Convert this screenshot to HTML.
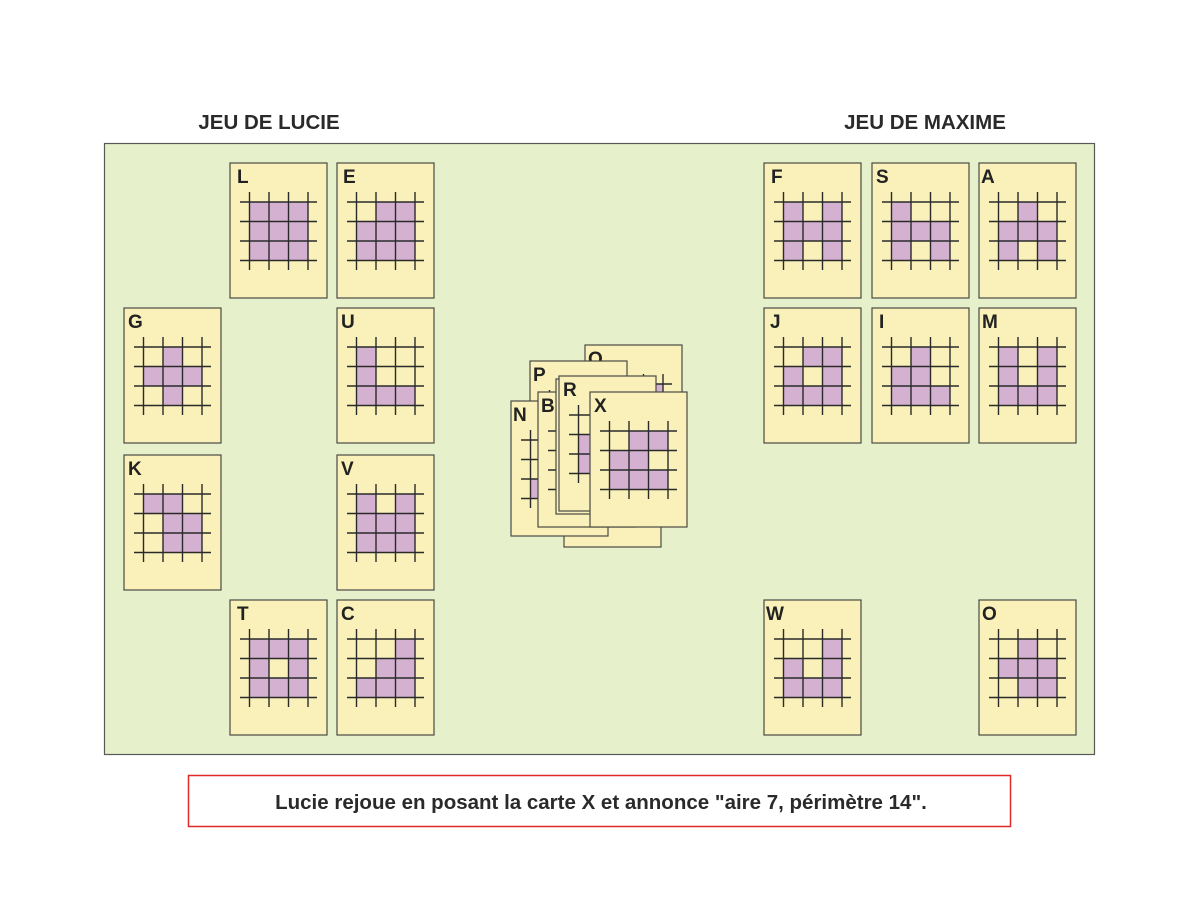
<!DOCTYPE html>
<html><head><meta charset="utf-8"><style>
html,body{margin:0;padding:0;background:#fff;width:1200px;height:900px;overflow:hidden}
svg{display:block}
.c{fill:#f9f1b9;stroke:#4a4a44;stroke-width:1.2}
.p{fill:#d4b1d1}
.l{font:bold 19px "Liberation Sans",sans-serif;fill:#222}
.gl line{stroke:#2a2a2a;stroke-width:1.4}
</style></head><body>
<svg width="1200" height="900" viewBox="0 0 1200 900" xmlns="http://www.w3.org/2000/svg">
<defs>
<g id="g" class="gl">
<line x1="10" y1="39" x2="87" y2="39"/><line x1="10" y1="58.5" x2="87" y2="58.5"/><line x1="10" y1="78" x2="87" y2="78"/><line x1="10" y1="97.5" x2="87" y2="97.5"/>
<line x1="19.5" y1="29" x2="19.5" y2="107"/><line x1="39" y1="29" x2="39" y2="107"/><line x1="58.5" y1="29" x2="58.5" y2="107"/><line x1="78" y1="29" x2="78" y2="107"/>
</g>
<rect id="k" class="c" x="0" y="0" width="97" height="135"/>
<rect id="a" class="p" x="19.5" y="39" width="19.5" height="19.5"/>
<rect id="b" class="p" x="39" y="39" width="19.5" height="19.5"/>
<rect id="d" class="p" x="58.5" y="39" width="19.5" height="19.5"/>
<rect id="e" class="p" x="19.5" y="58.5" width="19.5" height="19.5"/>
<rect id="f" class="p" x="39" y="58.5" width="19.5" height="19.5"/>
<rect id="h" class="p" x="58.5" y="58.5" width="19.5" height="19.5"/>
<rect id="i" class="p" x="19.5" y="78" width="19.5" height="19.5"/>
<rect id="j" class="p" x="39" y="78" width="19.5" height="19.5"/>
<rect id="m" class="p" x="58.5" y="78" width="19.5" height="19.5"/>
</defs>
<text x="269" y="129" text-anchor="middle" style="font:bold 20.5px 'Liberation Sans',sans-serif;fill:#2a2a2a">JEU DE LUCIE</text>
<text x="925" y="129" text-anchor="middle" style="font:bold 20.5px 'Liberation Sans',sans-serif;fill:#2a2a2a">JEU DE MAXIME</text>
<rect x="104.5" y="143.5" width="990" height="611" fill="#e6f0cb" stroke="#5a5a55" stroke-width="1.2"/>

<g transform="translate(230,163)"><use href="#k"/><text class="l" x="7" y="20">L</text><use href="#a"/><use href="#b"/><use href="#d"/><use href="#e"/><use href="#f"/><use href="#h"/><use href="#i"/><use href="#j"/><use href="#m"/><use href="#g"/></g>
<g transform="translate(337,163)"><use href="#k"/><text class="l" x="6" y="20">E</text><use href="#b"/><use href="#d"/><use href="#e"/><use href="#f"/><use href="#h"/><use href="#i"/><use href="#j"/><use href="#m"/><use href="#g"/></g>
<g transform="translate(124,308)"><use href="#k"/><text class="l" x="4" y="20">G</text><use href="#b"/><use href="#e"/><use href="#f"/><use href="#h"/><use href="#j"/><use href="#g"/></g>
<g transform="translate(337,308)"><use href="#k"/><text class="l" x="4" y="20">U</text><use href="#a"/><use href="#e"/><use href="#i"/><use href="#j"/><use href="#m"/><use href="#g"/></g>
<g transform="translate(124,455)"><use href="#k"/><text class="l" x="4" y="20">K</text><use href="#a"/><use href="#b"/><use href="#f"/><use href="#h"/><use href="#j"/><use href="#m"/><use href="#g"/></g>
<g transform="translate(337,455)"><use href="#k"/><text class="l" x="4" y="20">V</text><use href="#a"/><use href="#d"/><use href="#e"/><use href="#f"/><use href="#h"/><use href="#i"/><use href="#j"/><use href="#m"/><use href="#g"/></g>
<g transform="translate(230,600)"><use href="#k"/><text class="l" x="7" y="20">T</text><use href="#a"/><use href="#b"/><use href="#d"/><use href="#e"/><use href="#h"/><use href="#i"/><use href="#j"/><use href="#m"/><use href="#g"/></g>
<g transform="translate(337,600)"><use href="#k"/><text class="l" x="4" y="20">C</text><use href="#d"/><use href="#f"/><use href="#h"/><use href="#i"/><use href="#j"/><use href="#m"/><use href="#g"/></g>

<g transform="translate(764,163)"><use href="#k"/><text class="l" x="7" y="20">F</text><use href="#a"/><use href="#d"/><use href="#e"/><use href="#f"/><use href="#h"/><use href="#i"/><use href="#m"/><use href="#g"/></g>
<g transform="translate(872,163)"><use href="#k"/><text class="l" x="4" y="20">S</text><use href="#a"/><use href="#e"/><use href="#f"/><use href="#h"/><use href="#i"/><use href="#m"/><use href="#g"/></g>
<g transform="translate(979,163)"><use href="#k"/><text class="l" x="2" y="20">A</text><use href="#b"/><use href="#e"/><use href="#f"/><use href="#h"/><use href="#i"/><use href="#m"/><use href="#g"/></g>
<g transform="translate(764,308)"><use href="#k"/><text class="l" x="6" y="20">J</text><use href="#b"/><use href="#d"/><use href="#e"/><use href="#h"/><use href="#i"/><use href="#j"/><use href="#m"/><use href="#g"/></g>
<g transform="translate(872,308)"><use href="#k"/><text class="l" x="7" y="20">I</text><use href="#b"/><use href="#e"/><use href="#f"/><use href="#i"/><use href="#j"/><use href="#m"/><use href="#g"/></g>
<g transform="translate(979,308)"><use href="#k"/><text class="l" x="3" y="20">M</text><use href="#a"/><use href="#d"/><use href="#e"/><use href="#h"/><use href="#i"/><use href="#j"/><use href="#m"/><use href="#g"/></g>
<g transform="translate(764,600)"><use href="#k"/><text class="l" x="2" y="20">W</text><use href="#d"/><use href="#e"/><use href="#h"/><use href="#i"/><use href="#j"/><use href="#m"/><use href="#g"/></g>
<g transform="translate(979,600)"><use href="#k"/><text class="l" x="3" y="20">O</text><use href="#b"/><use href="#e"/><use href="#f"/><use href="#h"/><use href="#j"/><use href="#m"/><use href="#g"/></g>

<g transform="translate(585,345)"><use href="#k"/><text class="l" x="3" y="20">Q</text><use href="#d"/><use href="#g"/></g>
<g transform="translate(530,361)"><use href="#k"/><text class="l" x="3" y="20">P</text><use href="#e"/><use href="#g"/></g>
<g transform="translate(564,412)"><use href="#k"/><use href="#g"/></g>
<g transform="translate(511,401)"><use href="#k"/><text class="l" x="2" y="20">N</text><use href="#i"/><use href="#g"/></g>
<g transform="translate(538,392)"><use href="#k"/><text class="l" x="3" y="20">B</text><use href="#i"/><use href="#g"/></g>
<g transform="translate(556,379)"><use href="#k"/></g>
<g transform="translate(559,376)"><use href="#k"/><text class="l" x="4" y="20">R</text><use href="#e"/><use href="#i"/><use href="#g"/></g>
<g transform="translate(590,392)"><use href="#k"/><text class="l" x="4" y="20">X</text><use href="#b"/><use href="#d"/><use href="#e"/><use href="#f"/><use href="#i"/><use href="#j"/><use href="#m"/><use href="#g"/></g>

<rect x="188.5" y="775.5" width="822" height="51" fill="#fff" stroke="#e02a2a" stroke-width="1.5"/>
<text x="601" y="809" text-anchor="middle" style="font:bold 20.5px 'Liberation Sans',sans-serif;fill:#2a2a2a">Lucie rejoue en posant la carte X et annonce "aire 7, périmètre 14".</text>
</svg>
</body></html>
